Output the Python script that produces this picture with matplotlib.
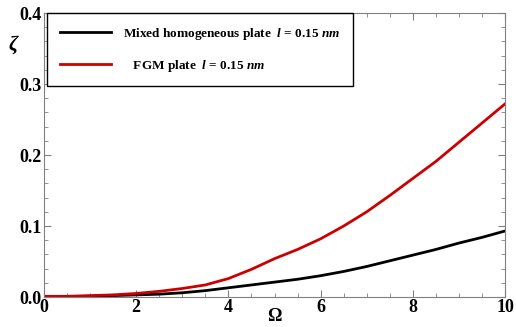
import matplotlib
matplotlib.use('Agg')
import matplotlib.pyplot as plt
from matplotlib.ticker import MultipleLocator

plt.rcParams['font.family'] = 'Liberation Serif'
plt.rcParams['font.weight'] = 'bold'
plt.rcParams['mathtext.fontset'] = 'custom'
plt.rcParams['mathtext.rm'] = 'Liberation Serif:bold'
plt.rcParams['mathtext.it'] = 'Liberation Serif:italic:bold'

# values
omega = [0, 0.5, 1, 1.5, 2, 2.5, 3, 3.5, 4, 4.5, 5, 5.5, 6, 6.5, 7, 7.5, 8, 8.5, 9, 9.5, 10]
zeta_mixed = [0.0, 0.0005, 0.001, 0.002, 0.003, 0.004, 0.006, 0.009, 0.013, 0.017, 0.021,
              0.025, 0.030, 0.036, 0.043, 0.051, 0.059, 0.067, 0.076, 0.084, 0.093]
zeta_fgm = [0.001, 0.001, 0.002, 0.003, 0.005, 0.008, 0.012, 0.017, 0.026, 0.039, 0.054,
            0.067, 0.082, 0.100, 0.120, 0.143, 0.167, 0.191, 0.218, 0.245, 0.272]

fig = plt.figure(figsize=(5.16, 3.27), dpi=100)
ax = fig.add_axes([0.0853, 0.0917, 0.8934, 0.8683])

ax.plot(omega, zeta_mixed, color='black', lw=2,
        label=r'Mixed homogeneous plate  $\it{l}$ = 0.15 $\it{nm}$')
ax.plot(omega, zeta_fgm, color='#cc0000', lw=2,
        label=r'   FGM plate  $\it{l}$ = 0.15 $\it{nm}$')

ax.set_xlim(0, 10)
ax.set_ylim(0, 0.4)
ax.xaxis.set_major_locator(MultipleLocator(2))
ax.xaxis.set_minor_locator(MultipleLocator(0.5))
ax.yaxis.set_major_locator(MultipleLocator(0.1))
ax.yaxis.set_minor_locator(MultipleLocator(0.02))
ax.tick_params(which='both', direction='in', top=True, right=True, color='gray')
ax.tick_params(which='major', length=5)
ax.tick_params(which='minor', length=3)
ax.tick_params(axis='both', labelsize=13, pad=1.5)
for s in ax.spines.values():
    s.set_color('gray')

ax.set_xlabel(r'$\Omega$', fontsize=13, labelpad=-6)
ax.set_ylabel(r'$\zeta$', fontsize=15, rotation=0)
ax.yaxis.set_label_coords(-0.065, 0.85)

leg = ax.legend(loc='upper left', fontsize=9.5, handlelength=3.9,
                labelspacing=1.22, borderpad=0.95, handletextpad=0.9, borderaxespad=0,
                fancybox=False, edgecolor='black', framealpha=1,
                bbox_to_anchor=(0.007, 1.0))
leg.get_frame().set_linewidth(1.0)

fig.savefig('out.png', dpi=100)
